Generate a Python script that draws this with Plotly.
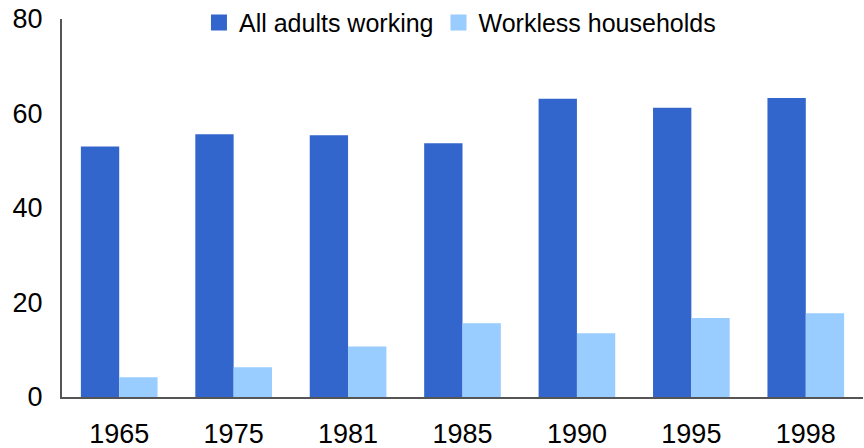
import plotly.graph_objects as go

years = ["1965", "1975", "1981", "1985", "1990", "1995", "1998"]
all_adults_working = [53.0, 55.6, 55.4, 53.7, 63.1, 61.2, 63.3]
workless_households = [4.2, 6.3, 10.7, 15.6, 13.5, 16.7, 17.7]
y_ticks = [0, 20, 40, 60, 80]

series = [
    ("All adults working", all_adults_working, "#3366CC"),
    ("Workless households", workless_households, "#99CCFF"),
]

FONT = "Liberation Sans, Arial, sans-serif"

fig = go.Figure()
for name, values, color in series:
    fig.add_trace(go.Bar(x=years, y=values, name=name, showlegend=False,
                         marker=dict(color=color, line=dict(width=0))))
# legend entries with larger square swatches
for name, values, color in series:
    fig.add_trace(go.Scatter(x=[None], y=[None], mode="markers", name=name,
                             marker=dict(symbol="square", size=16, color=color)))

fig.update_layout(
    width=864, height=448,
    margin=dict(l=62, r=1, t=19, b=51, autoexpand=False),
    paper_bgcolor="white", plot_bgcolor="white",
    barmode="group", bargap=0.33, bargroupgap=0,
    font=dict(family=FONT, size=27, color="black"),
    legend=dict(orientation="h", x=0.171, xanchor="left", y=0.99, yanchor="middle",
                font=dict(size=25), bgcolor="rgba(0,0,0,0)",
                itemwidth=30, traceorder="normal", tracegroupgap=0),
    xaxis=dict(showline=True, linecolor="#555555", linewidth=2, ticks="",
               showgrid=False, ticklabelstandoff=12, tickfont=dict(size=27),
               automargin=False),
    yaxis=dict(range=[0, 80], tickvals=y_ticks, showline=True, linecolor="#555555",
               linewidth=2, ticks="", showgrid=False, zeroline=False,
               ticklabelstandoff=12, tickfont=dict(size=27), automargin=False),
)

fig.write_html("out.html")
